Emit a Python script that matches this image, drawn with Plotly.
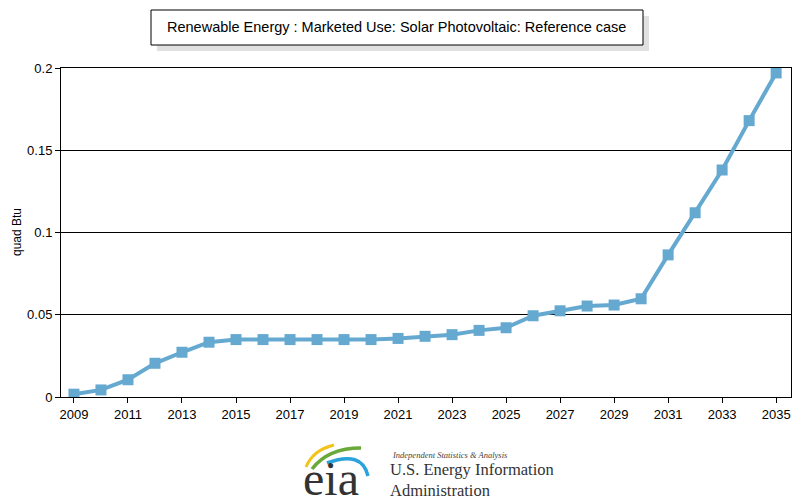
import plotly.graph_objects as go

years = list(range(2009, 2036))
solar_pv = [
    0.0017, 0.0043, 0.0105, 0.0205, 0.0272, 0.0333, 0.0349, 0.0349, 0.0349,
    0.0349, 0.0349, 0.0349, 0.0356, 0.0369, 0.0379, 0.0405, 0.0421, 0.0494,
    0.0524, 0.0553, 0.0559, 0.0597, 0.0864, 0.1120, 0.1380, 0.1680, 0.1970,
]
x_ticks = list(range(2009, 2036, 2))
y_ticks = [0, 0.05, 0.1, 0.15, 0.2]
y_tick_labels = ["0", "0.05", "0.1", "0.15", "0.2"]

title = "Renewable Energy : Marketed Use: Solar Photovoltaic: Reference case"
line_color = "#65a9d1"

# the page body has an 8px margin, so shift everything up/left by that
OFF = 8
W, H = 800, 500
# plot area as seen in the 800x500 screenshot
L, R, T, B = 61, 791, 68, 397


def px(x):
    return (x - L) / (R - L)


def py(y):
    return (B - y) / (B - T)


fig = go.Figure()
fig.add_trace(
    go.Scatter(
        x=years,
        y=solar_pv,
        mode="lines+markers",
        line=dict(color=line_color, width=4),
        marker=dict(symbol="square", size=11, color=line_color),
        showlegend=False,
        hoverinfo="x+y",
    )
)

shapes = [
    # title box shadow + box
    dict(type="rect", xref="paper", yref="paper",
         x0=px(157), x1=px(649), y0=py(51), y1=py(16),
         fillcolor="#e0e0e0", line=dict(width=0), layer="below"),
    dict(type="rect", xref="paper", yref="paper",
         x0=px(151), x1=px(643), y0=py(45), y1=py(10),
         fillcolor="white", line=dict(color="black", width=1)),
]


# eia logo swooshes
def swoosh(p0, c, p1, color, w):
    return dict(
        type="path", xref="paper", yref="paper",
        path=f"M {px(p0[0])},{py(p0[1])} Q {px(c[0])},{py(c[1])} {px(p1[0])},{py(p1[1])}",
        line=dict(color=color, width=w),
    )


shapes += [
    swoosh((306, 467), (313, 450), (334, 445), "#f2c318", 3),
    swoosh((312, 469), (328, 448), (361, 448), "#6aa83a", 3.5),
    swoosh((327, 463), (362, 450), (368, 476), "#2aa2dc", 3.5),
]


def label(text, x, y, size, family="Liberation Serif", color="#333333",
          xanchor="left", **kw):
    return dict(text=text, xref="paper", yref="paper", x=px(x), y=py(y),
                xanchor=xanchor, yanchor="middle", showarrow=False,
                font=dict(family=family, size=size, color=color), **kw)


annotations = [
    label(title, 396, 27.5, 14.5, family="Liberation Sans, Arial",
          color="black", xanchor="center"),
    label("quad Btu", 17, 232, 12, family="Liberation Sans, Arial",
          color="black", xanchor="center", textangle=-90),
    # fixed box height keeps the big letters inside the page
    label("eia", 331, 478, 48, xanchor="center", height=36),
    label("<i>Independent Statistics &amp; Analysis</i>", 390, 455, 8.5,
          color="#444444"),
    label("U.S. Energy Information<br>Administration", 388, 480, 16.5,
          align="left"),
]

fig.update_layout(
    width=W,
    height=H,
    margin=dict(l=L - OFF, r=W - R + OFF, t=T - OFF, b=H - B + OFF),
    paper_bgcolor="white",
    plot_bgcolor="white",
    font=dict(family="Liberation Sans, Arial", size=13, color="black"),
    shapes=shapes,
    annotations=annotations,
    xaxis=dict(
        range=[2008.52, 2035.55],
        tickvals=x_ticks,
        ticks="outside",
        ticklen=5,
        tickcolor="black",
        showgrid=False,
        showline=True,
        linecolor="black",
        linewidth=1,
        mirror=True,
        zeroline=False,
    ),
    yaxis=dict(
        range=[0, 0.2],
        tickvals=y_ticks,
        ticktext=y_tick_labels,
        ticks="outside",
        ticklen=5,
        tickcolor="black",
        showgrid=True,
        gridcolor="black",
        gridwidth=1,
        showline=True,
        linecolor="black",
        linewidth=1,
        mirror=True,
        zeroline=False,
    ),
)

fig.write_html("out.html")
